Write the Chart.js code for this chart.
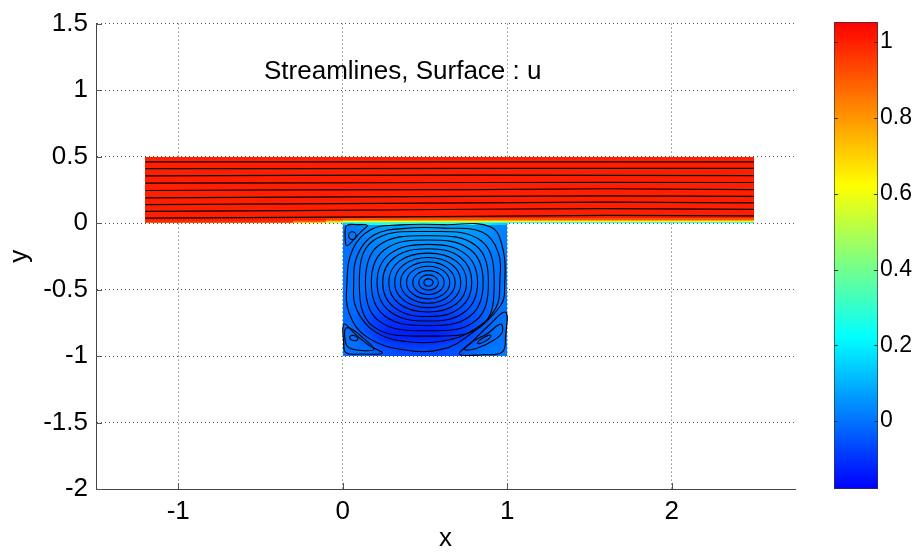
<!DOCTYPE html>
<html>
<head>
<meta charset="utf-8">
<script src="https://cdn.jsdelivr.net/npm/chart.js@4.4.1/dist/chart.umd.min.js"></script>
<style>
  html, body { margin: 0; padding: 0; background: #fff; }
  #wrap { position: relative; width: 914px; height: 552px; overflow: hidden; }
  #main { position: absolute; left: 0; top: 0; }
  #bar { position: absolute; left: 800px; top: 0; }
</style>
</head>
<body>
<div id="wrap">
  <canvas id="main" width="914" height="552"></canvas>
  <canvas id="bar" width="114" height="552"></canvas>
</div>
<script>
// ---- axes ----
const xRange = [-1.5, 2.75];
const yRange = [-2, 1.5];
const xTicks = [-1, 0, 1, 2];
const yTicks = [-2, -1.5, -1, -0.5, 0, 0.5, 1, 1.5];

// ---- colour scale for u ----
const colorRange = [-0.179, 1.053];
const colorTicks = [0, 0.2, 0.4, 0.6, 0.8, 1];
const colorStops = [[0, '#0000ff'], [0.325, '#00ffff'], [0.65, '#ffff00'], [1, '#ff0000']];

// ---- u in the channel (rows bottom to top, columns left to right) ----
const channelXEdges = [-1.2, -0.3, -0.1, 0, 1, 2.5];
const channelYEdges = [0, 0.008, 0.016, 0.024, 0.035, 0.5];
const channelU = [
  [0.92, 0.75, 0.50, 0.35, 0.30],
  [0.97, 0.88, 0.70, 0.58, 0.58],
  [1.00, 0.95, 0.85, 0.78, 0.78],
  [1.00, 1.00, 0.95, 0.92, 0.92],
  [1.00, 1.00, 1.00, 1.00, 1.00]
];

// ---- u in the cavity, x 0..1, y 0..-1 (rows top to bottom) ----
const cavityXRange = [0, 1];
const cavityYRange = [-1, 0];
const cavityU = [
  [0.01, 0.04, 0.06, 0.07, 0.08, 0.08, 0.08, 0.07, 0.06, 0.03],
  [0.00, 0.02, 0.04, 0.05, 0.05, 0.05, 0.05, 0.05, 0.04, 0.02],
  [0.00, 0.01, 0.02, 0.03, 0.03, 0.03, 0.03, 0.03, 0.02, 0.01],
  [0.00, 0.00, 0.01, 0.01, 0.01, 0.01, 0.01, 0.01, 0.01, 0.00],
  [0.00, 0.00, -0.01, -0.01, -0.01, -0.01, 0.00, 0.00, 0.00, 0.00],
  [0.00, -0.02, -0.03, -0.04, -0.04, -0.04, -0.03, -0.03, -0.02, 0.00],
  [-0.01, -0.04, -0.06, -0.08, -0.08, -0.08, -0.07, -0.05, -0.03, 0.00],
  [-0.01, -0.06, -0.10, -0.11, -0.11, -0.11, -0.10, -0.08, -0.04, 0.00],
  [0.00, -0.05, -0.11, -0.13, -0.13, -0.13, -0.11, -0.08, -0.03, 0.00],
  [0.00, -0.01, -0.05, -0.07, -0.07, -0.07, -0.06, -0.04, 0.00, 0.01]
];
// thin layer just under the opening of the cavity
const lidDepth = 0.015;
const lidU = [0.15, 0.25, 0.30, 0.30, 0.30, 0.30, 0.30, 0.30, 0.25, 0.15];

// ---- streamlines in the channel ----
const channelLineX = [-1.2, -0.3, 0.8, 1.6, 2.5];
const channelLineY = [
  [0.037, 0.042, 0.050, 0.058, 0.054],
  [0.088, 0.093, 0.104, 0.108, 0.103],
  [0.139, 0.145, 0.152, 0.158, 0.152],
  [0.190, 0.195, 0.200, 0.205, 0.200],
  [0.245, 0.250, 0.252, 0.258, 0.252],
  [0.300, 0.302, 0.305, 0.306, 0.305],
  [0.355, 0.358, 0.360, 0.358, 0.356],
  [0.410, 0.410, 0.411, 0.411, 0.411],
  [0.460, 0.460, 0.460, 0.460, 0.460]
];

// ---- closed streamlines of the main cavity vortex (inner to outer) ----
const vortexLoops = [
  [[0.550,-0.447],[0.541,-0.428],[0.520,-0.420],[0.501,-0.428],[0.493,-0.447],[0.501,-0.467],[0.520,-0.475],[0.541,-0.467]],
  [[0.582,-0.447],[0.564,-0.407],[0.520,-0.390],[0.479,-0.407],[0.462,-0.447],[0.479,-0.488],[0.520,-0.505],[0.564,-0.488]],
  [[0.617,-0.447],[0.589,-0.384],[0.520,-0.358],[0.453,-0.384],[0.426,-0.447],[0.453,-0.511],[0.520,-0.537],[0.589,-0.511]],
  [[0.651,-0.447],[0.613,-0.360],[0.520,-0.325],[0.426,-0.360],[0.388,-0.447],[0.426,-0.534],[0.520,-0.570],[0.613,-0.534]],
  [[0.684,-0.447],[0.636,-0.337],[0.520,-0.292],[0.400,-0.337],[0.351,-0.447],[0.400,-0.558],[0.520,-0.603],[0.636,-0.558]],
  [[0.718,-0.447],[0.663,-0.312],[0.520,-0.259],[0.373,-0.312],[0.316,-0.447],[0.373,-0.583],[0.520,-0.636],[0.663,-0.583]],
  [[0.753,-0.447],[0.690,-0.286],[0.520,-0.226],[0.345,-0.286],[0.280,-0.447],[0.345,-0.609],[0.520,-0.669],[0.690,-0.609]],
  [[0.785,-0.447],[0.716,-0.259],[0.520,-0.193],[0.315,-0.259],[0.243,-0.447],[0.315,-0.636],[0.520,-0.703],[0.716,-0.636]],
  [[0.820,-0.447],[0.745,-0.232],[0.520,-0.160],[0.287,-0.232],[0.209,-0.447],[0.287,-0.665],[0.520,-0.737],[0.745,-0.665]],
  [[0.854,-0.447],[0.777,-0.201],[0.520,-0.127],[0.254,-0.201],[0.174,-0.447],[0.254,-0.697],[0.520,-0.772],[0.777,-0.697]],
  [[0.886,-0.447],[0.809,-0.169],[0.520,-0.095],[0.218,-0.169],[0.138,-0.447],[0.218,-0.734],[0.520,-0.810],[0.809,-0.734]],
  [[0.921,-0.447],[0.845,-0.137],[0.520,-0.064],[0.181,-0.137],[0.101,-0.447],[0.181,-0.773],[0.520,-0.850],[0.845,-0.773]],
  [[0.955,-0.447],[0.945,-0.220],[0.850,-0.070],[0.620,-0.038],[0.380,-0.040],[0.190,-0.090],[0.090,-0.240],[0.067,-0.447],
   [0.085,-0.650],[0.200,-0.820],[0.400,-0.893],[0.620,-0.885],[0.800,-0.800],[0.930,-0.640]],
  [[0.985,-0.447],[0.975,-0.200],[0.900,-0.030],[0.620,-0.012],[0.350,-0.014],[0.170,-0.050],[0.060,-0.200],[0.026,-0.447],
   [0.040,-0.680],[0.150,-0.860],[0.380,-0.955],[0.600,-0.950],[0.760,-0.850],[0.960,-0.620]]
];

// ---- corner eddies ----
const eddyLoops = [
  // upper left
  [[0.081,-0.094],[0.058,-0.065],[0.036,-0.094],[0.058,-0.124]],
  [[0.150,-0.018],[0.090,-0.012],[0.025,-0.020],[0.015,-0.100],[0.025,-0.170],[0.070,-0.120],[0.115,-0.060]],
  // lower left
  [[0.092,-0.870],[0.065,-0.845],[0.042,-0.860],[0.070,-0.885]],
  [[0.190,-0.950],[0.120,-0.860],[0.060,-0.800],[0.020,-0.790],[0.012,-0.850],[0.030,-0.930],[0.090,-0.955]],
  [[0.008,-0.760],[0.006,-0.900],[0.020,-0.975],[0.120,-0.985],[0.240,-0.978],[0.160,-0.920],[0.080,-0.840]],
  // lower right
  [[0.900,-0.845],[0.855,-0.862],[0.820,-0.905],[0.865,-0.890]],
  [[0.960,-0.760],[0.880,-0.830],[0.780,-0.900],[0.740,-0.950],[0.820,-0.940],[0.920,-0.880],[0.970,-0.820]],
  [[0.990,-0.670],[0.880,-0.780],[0.780,-0.900],[0.710,-0.985],[0.850,-0.990],[0.970,-0.970],[0.990,-0.850]]
];

const plotTitle = 'Streamlines, Surface : u';

// ---------------------------------------------------------------
const FONT = "'Liberation Sans', Arial, Helvetica, sans-serif";
const TICK_SIZE = 26;

function hexToRgb(h) {
  return [parseInt(h.slice(1, 3), 16), parseInt(h.slice(3, 5), 16), parseInt(h.slice(5, 7), 16)];
}
function uColor(u) {
  const t = Math.min(1, Math.max(0, (u - colorRange[0]) / (colorRange[1] - colorRange[0])));
  for (let i = 1; i < colorStops.length; i++) {
    const [p0, c0] = colorStops[i - 1];
    const [p1, c1] = colorStops[i];
    if (t <= p1) {
      const f = (t - p0) / (p1 - p0);
      const a = hexToRgb(c0), b = hexToRgb(c1);
      return a.map((v, k) => Math.round(v + (b[k] - v) * f));
    }
  }
  return hexToRgb(colorStops[colorStops.length - 1][1]);
}

// paint a regular grid of u values smoothly into a data rectangle
function paintGrid(ctx, grid, x, y, x0, x1, yTopVal, yBotVal) {
  const rows = grid.length, cols = grid[0].length;
  const off = document.createElement('canvas');
  off.width = cols; off.height = rows;
  const octx = off.getContext('2d');
  const img = octx.createImageData(cols, rows);
  for (let r = 0; r < rows; r++) {
    for (let c = 0; c < cols; c++) {
      const [R, G, B] = uColor(grid[r][c]);
      const i = (r * cols + c) * 4;
      img.data[i] = R; img.data[i + 1] = G; img.data[i + 2] = B; img.data[i + 3] = 255;
    }
  }
  octx.putImageData(img, 0, 0);
  const px0 = Math.round(x.getPixelForValue(x0)), px1 = Math.round(x.getPixelForValue(x1));
  const py0 = Math.round(y.getPixelForValue(yTopVal)), py1 = Math.round(y.getPixelForValue(yBotVal));
  ctx.imageSmoothingEnabled = true;
  ctx.imageSmoothingQuality = 'high';
  ctx.drawImage(off, px0, py0, px1 - px0, Math.max(1, py1 - py0));
}

const fieldPlugin = {
  id: 'uField',
  beforeDatasetsDraw(chart) {
    const { ctx, chartArea: a, scales: { x, y } } = chart;
    ctx.save();
    ctx.beginPath();
    ctx.rect(a.left, a.top, a.right - a.left, a.bottom - a.top);
    ctx.clip();
    for (let r = 0; r < channelU.length; r++) {
      const yt = Math.round(y.getPixelForValue(channelYEdges[r + 1]));
      const yb = Math.round(y.getPixelForValue(channelYEdges[r]));
      for (let c = 0; c < channelU[r].length; c++) {
        const xl = Math.round(x.getPixelForValue(channelXEdges[c]));
        const xr = Math.round(x.getPixelForValue(channelXEdges[c + 1]));
        ctx.fillStyle = 'rgb(' + uColor(channelU[r][c]).join(',') + ')';
        ctx.fillRect(xl, yt, xr - xl, yb - yt);
      }
    }
    paintGrid(ctx, cavityU, x, y, cavityXRange[0], cavityXRange[1], cavityYRange[1], cavityYRange[0]);
    paintGrid(ctx, [lidU], x, y, cavityXRange[0], cavityXRange[1], cavityYRange[1], cavityYRange[1] - lidDepth);
    ctx.restore();
  }
};

// close the loop datasets so the spline runs all the way round
const loopPlugin = {
  id: 'closedLoops',
  afterDatasetUpdate(chart, args) {
    const ds = chart.data.datasets[args.index];
    if (ds.closedLoop && args.meta.dataset) {
      args.meta.dataset._loop = true;
      args.meta.dataset._fullLoop = true;
    }
  }
};

// inward tick marks and the label inside the axes
const decorPlugin = {
  id: 'decor',
  afterDatasetsDraw(chart) {
    const { ctx, chartArea: a, scales: { x, y } } = chart;
    ctx.save();
    ctx.strokeStyle = '#555';
    ctx.lineWidth = 1;
    ctx.beginPath();
    xTicks.forEach(v => {
      const px = Math.round(x.getPixelForValue(v)) + 0.5;
      ctx.moveTo(px, a.bottom); ctx.lineTo(px, a.bottom - 6);
    });
    yTicks.forEach(v => {
      const py = Math.round(y.getPixelForValue(v)) + 0.5;
      ctx.moveTo(a.left, py); ctx.lineTo(a.left + 6, py);
    });
    ctx.stroke();
    ctx.fillStyle = '#000';
    ctx.font = '26px ' + FONT;
    ctx.textAlign = 'center';
    ctx.textBaseline = 'middle';
    ctx.fillText(plotTitle, x.getPixelForValue(0.365), y.getPixelForValue(1.14));
    ctx.restore();
  }
};

const datasets = [];
channelLineY.forEach(ys => datasets.push({
  data: ys.map((v, i) => ({ x: channelLineX[i], y: v })),
  showLine: true, borderColor: '#000', borderWidth: 1.2, pointRadius: 0, tension: 0
}));
vortexLoops.forEach(pts => datasets.push({
  data: pts.map(p => ({ x: p[0], y: p[1] })),
  showLine: true, borderColor: '#000', borderWidth: 1.1, pointRadius: 0, tension: 0.4, closedLoop: true
}));
eddyLoops.forEach(pts => datasets.push({
  data: pts.map(p => ({ x: p[0], y: p[1] })),
  showLine: true, borderColor: '#000', borderWidth: 1.1, pointRadius: 0, tension: pts.length <= 4 ? 0.55 : 0.4, closedLoop: true
}));

const tickFont = { family: FONT, size: TICK_SIZE };
const fmt = v => String(Math.round(v * 100) / 100);

new Chart(document.getElementById('main'), {
  type: 'scatter',
  data: { datasets },
  options: {
    responsive: false,
    animation: false,
    events: [],
    layout: { padding: { left: 0, top: 22, right: 119, bottom: 0 } },
    plugins: { legend: { display: false }, tooltip: { enabled: false } },
    scales: {
      x: {
        type: 'linear', min: xRange[0], max: xRange[1],
        afterBuildTicks: s => { s.ticks = xTicks.map(v => ({ value: v })); },
        afterFit: s => { s.height = 63; },
        grid: { color: '#555', lineWidth: 1, drawTicks: false },
        border: { display: true, color: '#444', width: 1, dash: [1, 3] },
        ticks: { color: '#000', font: tickFont, padding: 7, maxRotation: 0, callback: fmt },
        title: { display: true, text: 'x', color: '#000', font: { family: FONT, size: 26, lineHeight: 1 }, padding: { top: 0, bottom: 0 } }
      },
      y: {
        type: 'linear', min: yRange[0], max: yRange[1],
        afterBuildTicks: s => { s.ticks = yTicks.map(v => ({ value: v })); },
        afterFit: s => { s.width = 96; },
        grid: { color: '#555', lineWidth: 1, drawTicks: false },
        border: { display: true, color: '#444', width: 1, dash: [1, 3] },
        ticks: { color: '#000', font: tickFont, padding: 8, callback: fmt },
        title: { display: true, text: 'y', color: '#000', font: { family: FONT, size: 26, lineHeight: 1 }, padding: { top: 7, bottom: 0 } }
      }
    }
  },
  plugins: [fieldPlugin, loopPlugin, decorPlugin]
});

// ---- colour bar ----
const barTicksPlugin = {
  id: 'barTicks',
  afterDatasetsDraw(chart) {
    const { ctx, chartArea: a, scales: { y } } = chart;
    ctx.save();
    ctx.strokeStyle = '#333';
    ctx.lineWidth = 1;
    ctx.beginPath();
    colorTicks.forEach(v => {
      const py = Math.round(y.getPixelForValue(v)) + 0.5;
      ctx.moveTo(a.left, py); ctx.lineTo(a.left + 4, py);
      ctx.moveTo(a.right, py); ctx.lineTo(a.right - 4, py);
    });
    ctx.stroke();
    ctx.restore();
  }
};

new Chart(document.getElementById('bar'), {
  type: 'bar',
  data: {
    labels: ['u'],
    datasets: [{
      data: [colorRange],
      backgroundColor: c => {
        const ch = c.chart;
        if (!ch.chartArea) return '#0000ff';
        const ys = ch.scales.y;
        const g = ch.ctx.createLinearGradient(0, ys.getPixelForValue(colorRange[0]), 0, ys.getPixelForValue(colorRange[1]));
        colorStops.forEach(s => g.addColorStop(s[0], s[1]));
        return g;
      },
      borderColor: '#333', borderWidth: 1, borderSkipped: false,
      barPercentage: 1, categoryPercentage: 1
    }]
  },
  options: {
    responsive: false,
    animation: false,
    events: [],
    layout: { padding: { left: 34, top: 22, right: 0, bottom: 63 } },
    plugins: { legend: { display: false }, tooltip: { enabled: false } },
    scales: {
      x: { display: false },
      y: {
        position: 'right', min: colorRange[0], max: colorRange[1],
        afterBuildTicks: s => { s.ticks = colorTicks.map(v => ({ value: v })); },
        afterFit: s => { s.width = 36; },
        grid: { display: false, drawTicks: false },
        border: { display: false },
        ticks: { color: '#000', font: { family: FONT, size: 23 }, padding: 2, callback: fmt }
      }
    }
  },
  plugins: [barTicksPlugin]
});
</script>
</body>
</html>
